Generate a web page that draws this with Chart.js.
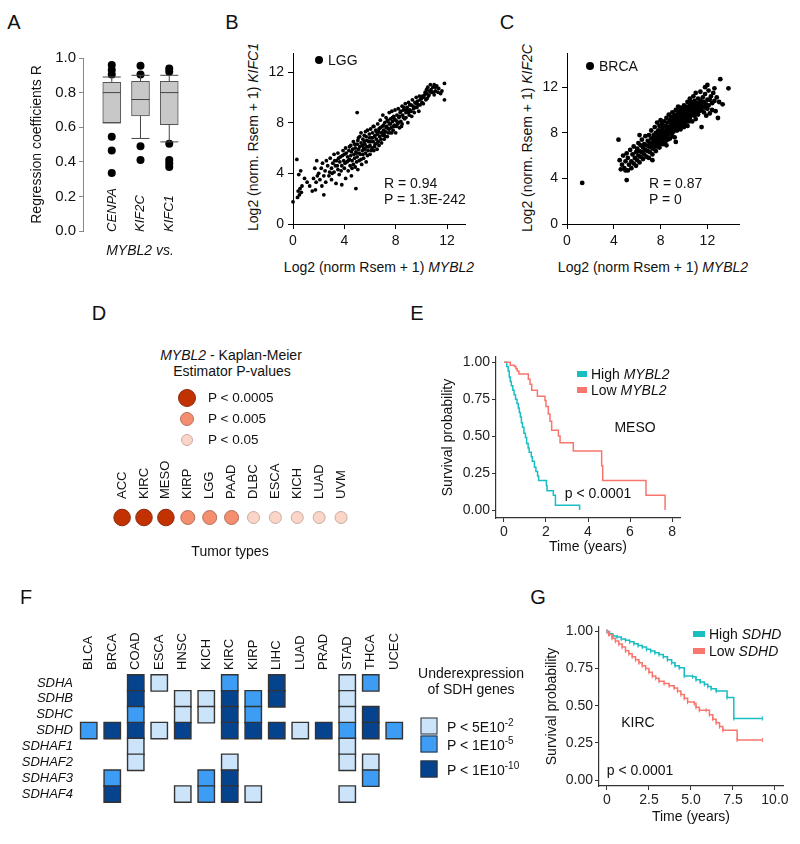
<!DOCTYPE html>
<html>
<head>
<meta charset="utf-8">
<script src="https://cdn.jsdelivr.net/npm/chart.js@4.4.1/dist/chart.umd.min.js"></script>
<style>
body { margin:0; width:800px; height:844px; position:relative; background:#fff; font-family:'Liberation Sans', Arial, sans-serif; color:#111; overflow:hidden; }
canvas { position:absolute; }
.t { position:absolute; white-space:nowrap; font-size:14px; line-height:1; }
.c { transform: translate(-50%,-50%); }
.l { transform: translate(0,-50%); }
.v { transform: translate(-50%,-50%) rotate(-90deg); }
.vb { transform-origin: 0 0; transform: rotate(-90deg) translate(0,-50%); font-size:13px; font-style:italic; }
.letter { font-size:20px; }
.sw { position:absolute; transform: translate(-50%,-50%); box-sizing:border-box; }
.dot { position:absolute; transform: translate(-50%,-50%); box-sizing:border-box; border-radius:50%; }
sup { font-size:10px; vertical-align: 6px; line-height:0; }
</style>
</head>
<body>
<canvas id="chartA" width="178" height="198" style="left:25px;top:45px"></canvas>
<canvas id="chartB" width="210" height="214" style="left:262px;top:40px"></canvas>
<canvas id="chartC" width="210" height="214" style="left:536px;top:40px"></canvas>
<canvas id="chartD" width="265" height="100" style="left:100px;top:440px"></canvas>
<canvas id="chartE" width="254" height="225" style="left:436px;top:340px"></canvas>
<canvas id="chartF" width="420" height="215" style="left:0px;top:600px"></canvas>
<canvas id="chartG" width="253" height="225" style="left:540px;top:610px"></canvas>

<!-- panel letters -->
<div class="t c letter" style="left:14px;top:22px">A</div>
<div class="t c letter" style="left:232px;top:22px">B</div>
<div class="t c letter" style="left:507px;top:22px">C</div>
<div class="t c letter" style="left:99px;top:313px">D</div>
<div class="t c letter" style="left:417px;top:313px">E</div>
<div class="t c letter" style="left:26px;top:597px">F</div>
<div class="t c letter" style="left:538px;top:597px">G</div>

<!-- A -->
<div class="t vb" style="left:111px;top:232px">CENPA</div>
<div class="t vb" style="left:139px;top:232px">KIF2C</div>
<div class="t vb" style="left:168px;top:232px">KIFC1</div>
<div class="t c" style="left:140px;top:250px;font-style:italic">MYBL2 vs.</div>

<!-- B -->
<div class="t v" style="left:253px;top:137px">Log2 (norm. Rsem + 1) <i>KIFC1</i></div>
<div class="t c" style="left:379px;top:267px">Log2 (norm Rsem + 1) <i>MYBL2</i></div>
<div class="dot" style="left:319px;top:60px;width:8px;height:8px;background:#000"></div>
<div class="t l" style="left:328px;top:60px">LGG</div>
<div class="t l" style="left:384px;top:183px">R = 0.94</div>
<div class="t l" style="left:384px;top:199px">P = 1.3E-242</div>

<!-- C -->
<div class="t v" style="left:527px;top:138px">Log2 (norm. Rsem + 1) <i>KIF2C</i></div>
<div class="t c" style="left:653px;top:267px">Log2 (norm Rsem + 1) <i>MYBL2</i></div>
<div class="dot" style="left:590px;top:66px;width:8px;height:8px;background:#000"></div>
<div class="t l" style="left:599px;top:66px">BRCA</div>
<div class="t l" style="left:649px;top:183px">R = 0.87</div>
<div class="t l" style="left:649px;top:199px">P = 0</div>

<!-- D -->
<div class="t c" style="left:231px;top:355px"><i>MYBL2</i> - Kaplan-Meier</div>
<div class="t c" style="left:232px;top:371px">Estimator P-values</div>
<div class="dot" style="left:187px;top:398px;width:18px;height:18px;background:#c23200;border:1px solid #8a2a12"></div>
<div class="dot" style="left:187px;top:419px;width:14px;height:14px;background:#f58e6e;border:1px solid #b0705c"></div>
<div class="dot" style="left:187px;top:440px;width:12px;height:12px;background:#fad5c8;border:1px solid #c9aaa0"></div>
<div class="t l" style="left:208px;top:398px;font-size:13.5px">P &lt; 0.0005</div>
<div class="t l" style="left:208px;top:419px;font-size:13.5px">P &lt; 0.005</div>
<div class="t l" style="left:208px;top:440px;font-size:13.5px">P &lt; 0.05</div>
<div class="t c" style="left:230px;top:551px">Tumor types</div>

<!-- E -->
<div class="sw" style="left:582px;top:374px;width:10px;height:6px;background:#19bec3"></div>
<div class="sw" style="left:582px;top:390px;width:10px;height:6px;background:#f8766d"></div>
<div class="t l" style="left:591px;top:374px">High <i>MYBL2</i></div>
<div class="t l" style="left:591px;top:390px">Low <i>MYBL2</i></div>
<div class="t c" style="left:635px;top:427px">MESO</div>
<div class="t c" style="left:598px;top:493px">p &lt; 0.0001</div>

<!-- F -->
<div class="t c" style="left:471px;top:673px">Underexpression</div>
<div class="t c" style="left:471px;top:689px">of SDH genes</div>
<div class="sw" style="left:429px;top:726px;width:17px;height:17px;background:#cce4fa;border:1.5px solid #333"></div>
<div class="sw" style="left:429px;top:744px;width:17px;height:17px;background:#3d9df5;border:1.5px solid #333"></div>
<div class="sw" style="left:429px;top:769px;width:17px;height:17px;background:#06438f;border:1.5px solid #333"></div>
<div class="t l" style="left:447px;top:727px">P &lt; 5E10<sup>-2</sup></div>
<div class="t l" style="left:447px;top:745px">P &lt; 1E10<sup>-5</sup></div>
<div class="t l" style="left:447px;top:770px">P &lt; 1E10<sup>-10</sup></div>

<!-- G -->
<div class="sw" style="left:699px;top:634px;width:12px;height:6px;background:#19bec3"></div>
<div class="sw" style="left:699px;top:651px;width:12px;height:6px;background:#f8766d"></div>
<div class="t l" style="left:709px;top:634px">High <i>SDHD</i></div>
<div class="t l" style="left:709px;top:651px">Low <i>SDHD</i></div>
<div class="t c" style="left:638px;top:722px">KIRC</div>
<div class="t c" style="left:640px;top:770px">p &lt; 0.0001</div>

<script>
// ---- data ----
// A: regression coefficients, MYBL2 vs. gene
const boxGenes = ['CENPA', 'KIF2C', 'KIFC1'];
const boxQ1 = [0.625, 0.665, 0.615];
const boxMed = [0.80, 0.76, 0.80];
const boxQ3 = [0.86, 0.865, 0.865];
const whiskLo = [0.625, 0.535, 0.515];
const whiskHi = [0.89, 0.90, 0.90];
const cenpaOut = [0.96, 0.93, 0.905, 0.545, 0.465, 0.335];
const kif2cOut = [0.955, 0.905, 0.49, 0.41];
const kifc1Out = [0.94, 0.92, 0.505, 0.41, 0.39, 0.37];
const aTicks = [0, 0.2, 0.4, 0.6, 0.8, 1.0];

// B: LGG, MYBL2 vs KIFC1 (x, y)
const lggPoints = [[0.0,1.75],[0.3,5.1],[0.35,2.1],[0.4,2.6],[0.45,3.9],[0.5,2.3],[0.55,2.8],[0.6,4.2],[0.65,2.5],[0.7,3.0],[0.9,3.6],[1.1,3.3],[1.3,3.0],[1.5,2.6],[1.6,3.6],[1.7,4.4],[1.75,2.7],[1.8,3.3],[1.85,5.0],[1.9,3.8],[2.0,4.0],[2.1,3.5],[2.2,4.4],[2.25,3.0],[2.3,4.8],[2.4,2.3],[2.4,3.8],[2.5,4.2],[2.55,3.3],[2.6,5.0],[2.7,4.6],[2.8,3.8],[2.85,4.1],[2.9,5.2],[3.0,4.4],[3.0,3.5],[3.1,4.8],[3.2,5.5],[3.2,4.1],[3.3,4.6],[3.35,3.2],[3.4,5.0],[3.5,4.3],[3.5,5.6],[3.6,3.9],[3.65,4.9],[3.7,5.3],[3.8,4.6],[3.8,3.1],[3.9,5.8],[3.95,5.0],[4.0,4.4],[4.0,5.5],[4.1,3.6],[4.1,6.0],[4.2,4.9],[4.25,5.3],[4.3,4.2],[4.35,5.8],[4.4,5.1],[4.45,4.6],[4.5,6.2],[4.5,5.4],[4.55,3.8],[4.6,5.0],[4.65,5.9],[4.7,4.7],[4.7,6.5],[4.75,5.5],[4.8,5.2],[4.85,6.0],[4.9,2.8],[4.9,5.7],[4.95,4.9],[5.0,6.3],[5.0,5.3],[5.0,8.8],[5.05,4.3],[5.1,6.8],[5.1,5.9],[5.15,5.0],[5.2,6.1],[5.25,5.5],[5.3,7.2],[5.3,6.4],[5.35,4.7],[5.4,5.8],[5.45,6.7],[5.5,6.0],[5.5,5.2],[5.55,7.0],[5.6,6.3],[5.65,5.6],[5.7,6.9],[5.7,4.9],[5.75,6.1],[5.8,7.4],[5.85,5.8],[5.9,6.5],[5.95,7.1],[6.0,6.2],[6.0,5.5],[6.05,7.5],[6.1,6.8],[6.15,6.0],[6.2,7.2],[6.25,6.5],[6.3,5.8],[6.3,7.7],[6.35,6.9],[6.4,6.3],[6.45,7.4],[6.5,6.7],[6.55,5.9],[6.6,7.1],[6.6,7.9],[6.65,6.5],[6.7,7.5],[6.75,6.9],[6.8,8.2],[6.85,7.2],[6.9,6.4],[6.95,7.7],[7.0,7.0],[7.0,8.6],[7.05,7.4],[7.1,6.7],[7.15,8.0],[7.2,7.3],[7.25,8.4],[7.3,7.7],[7.35,6.9],[7.4,8.1],[7.45,7.5],[7.5,8.8],[7.5,7.9],[7.55,7.2],[7.6,8.3],[7.65,7.6],[7.7,8.9],[7.75,8.1],[7.8,7.4],[7.85,8.5],[7.9,7.8],[7.95,9.0],[8.0,8.2],[8.0,7.2],[8.1,8.6],[8.15,7.9],[8.2,9.1],[8.25,8.4],[8.3,7.6],[8.35,8.8],[8.4,8.1],[8.5,9.3],[8.5,7.9],[8.55,8.6],[8.6,9.0],[8.7,8.3],[8.75,9.5],[8.8,8.8],[8.9,9.2],[8.95,8.0],[9.0,9.6],[9.05,8.6],[9.1,9.0],[9.2,9.4],[9.25,8.5],[9.3,9.8],[9.4,9.1],[9.45,8.8],[9.5,9.6],[9.6,10.0],[9.65,9.2],[9.7,9.7],[9.8,8.9],[9.85,10.1],[9.9,9.4],[10.0,9.9],[10.1,10.1],[10.15,9.5],[10.2,10.0],[10.3,10.4],[10.35,9.8],[10.4,10.3],[10.5,10.8],[10.55,10.1],[10.6,10.5],[10.7,11.0],[10.8,10.4],[10.9,10.8],[11.0,11.0],[11.1,10.5],[11.2,10.9],[11.3,10.4],[11.5,10.3],[11.8,11.1],[11.8,9.8],
    [3.05,4.0],[3.25,5.0],[3.45,4.6],[3.55,5.2],[3.75,4.2],[3.85,5.4],[4.05,4.8],[4.15,5.6],[4.3,5.0],[4.4,6.1],[4.55,5.7],[4.6,4.4],[4.8,6.3],[4.85,4.5],[4.95,5.6],[5.05,6.6],[5.15,5.6],[5.2,6.9],[5.3,5.1],[5.4,6.2],[5.45,5.5],[5.55,6.5],[5.6,5.9],[5.65,7.3],[5.75,6.6],[5.8,5.4],[5.9,6.1],[5.95,6.8],[6.05,6.5],[6.1,5.8],[6.2,6.8],[6.25,7.7],[6.35,6.1],[6.4,7.0],[6.5,7.3],[6.55,6.4],[6.65,7.3],[6.7,6.2],[6.8,7.6],[6.85,6.7],[6.95,7.2],[7.05,7.8],[7.1,7.1],[7.2,6.9],[7.25,7.6],[7.35,8.2],[7.4,7.2],[7.5,7.5],[7.6,7.9],[7.7,7.2],[7.75,8.4],[7.85,7.7],[7.9,8.3],[8.05,7.7],[8.1,8.1],[8.2,8.0],[8.3,8.5],[8.4,8.9],[8.45,7.7],[8.6,8.4],[8.65,9.2],[8.8,8.4],[8.85,9.0],[9.0,8.8],[9.1,9.4],[9.2,8.9],[9.35,9.3],[9.5,9.2],[9.6,9.5],[9.75,9.4],[9.9,9.8],[10.05,9.6],[10.25,10.2],[10.45,9.9],[10.6,10.2],[10.75,10.6],[10.95,10.4],[11.1,10.8],[11.35,10.7],[11.6,10.5],[11.0,10.2],[10.4,10.6]];
const bTicks = [0, 4, 8, 12];

// C: BRCA, MYBL2 vs KIF2C (x, y)
const brcaPoints = [[1.3,3.6],[5.1,3.85],[4.4,7.4],[4.5,5.6],[4.6,4.8],[4.7,5.2],[4.8,6.0],[4.9,4.9],[5.0,5.5],[5.0,4.7],[5.1,6.2],[5.2,4.7],[5.2,5.8],[5.3,5.2],[5.4,6.5],[5.5,5.5],[5.5,4.9],[5.6,6.1],[5.7,5.3],[5.7,6.8],[5.8,5.8],[5.9,6.3],[5.9,5.1],[6.0,6.6],[6.0,5.6],[6.1,6.0],[6.1,7.1],[6.2,6.4],[6.2,5.4],[6.2,7.8],[6.3,6.9],[6.3,5.9],[6.4,6.3],[6.4,7.4],[6.5,6.7],[6.5,5.7],[6.6,7.0],[6.6,6.1],[6.7,7.7],[6.7,6.5],[6.8,6.9],[6.8,5.9],[6.9,7.3],[6.9,6.4],[7.0,6.8],[7.0,7.8],[7.0,5.8],[7.1,7.1],[7.1,6.3],[7.2,7.5],[7.2,6.7],[7.2,8.2],[7.3,7.0],[7.3,6.1],[7.3,5.6],[7.4,7.8],[7.4,7.3],[7.4,6.6],[7.5,8.5],[7.5,7.6],[7.5,6.9],[7.6,8.0],[7.6,7.2],[7.6,6.4],[7.7,8.9],[7.7,7.5],[7.7,6.8],[7.8,8.2],[7.8,7.8],[7.8,7.1],[7.9,8.6],[7.9,7.4],[7.9,6.7],[8.0,8.0],[8.0,7.6],[8.0,7.0],[8.0,9.1],[8.1,8.3],[8.1,7.3],[8.1,8.8],[8.2,7.8],[8.2,8.5],[8.2,7.0],[8.3,8.1],[8.3,9.0],[8.3,7.5],[8.4,8.6],[8.4,7.9],[8.4,7.2],[8.5,8.3],[8.5,9.3],[8.5,7.7],[8.5,6.9],[8.6,8.9],[8.6,8.0],[8.6,7.4],[8.7,8.5],[8.7,9.6],[8.7,7.9],[8.8,8.2],[8.8,9.1],[8.8,7.5],[8.9,8.7],[8.9,9.4],[8.9,8.0],[9.0,8.4],[9.0,9.0],[9.0,7.7],[9.0,9.8],[9.1,8.7],[9.1,9.3],[9.1,8.1],[9.2,8.9],[9.2,9.6],[9.2,8.4],[9.2,7.6],[9.3,9.1],[9.3,8.6],[9.3,10.0],[9.3,7.2],[9.4,9.4],[9.4,8.8],[9.4,8.2],[9.5,9.7],[9.5,9.0],[9.5,8.5],[9.5,10.3],[9.6,9.3],[9.6,8.7],[9.6,9.9],[9.7,9.5],[9.7,8.9],[9.7,10.2],[9.7,8.3],[9.8,9.2],[9.8,9.8],[9.8,8.6],[9.9,9.5],[9.9,10.1],[9.9,8.9],[10.0,9.7],[10.0,9.1],[10.0,10.4],[10.0,8.5],[10.1,9.4],[10.1,10.0],[10.1,8.8],[10.2,9.7],[10.2,10.3],[10.2,9.1],[10.3,9.9],[10.3,9.4],[10.3,10.7],[10.3,8.6],[10.4,10.1],[10.4,9.6],[10.4,9.0],[10.5,10.4],[10.5,9.8],[10.5,9.3],[10.5,11.0],[10.6,10.0],[10.6,9.5],[10.6,10.7],[10.7,10.2],[10.7,9.7],[10.7,9.0],[10.8,10.5],[10.8,9.9],[10.8,11.2],[10.9,10.1],[10.9,9.5],[10.9,10.8],[11.0,10.3],[11.0,9.8],[11.0,11.5],[11.0,9.2],[11.1,10.6],[11.1,10.0],[11.2,10.2],[11.2,11.0],[11.2,9.6],[11.3,10.5],[11.3,9.9],[11.4,10.8],[11.4,10.2],[11.4,11.6],[11.5,10.0],[11.5,10.6],[11.5,8.5],[11.6,10.3],[11.6,11.1],[11.7,10.7],[11.7,9.8],[11.8,10.2],[11.8,11.4],[11.8,12.0],[11.9,10.5],[11.9,9.5],[12.0,10.9],[12.0,10.1],[12.0,12.2],[12.1,11.7],[12.1,10.4],[12.2,9.7],[12.2,10.9],[12.3,11.2],[12.4,10.0],[12.4,10.6],[12.5,11.5],[12.6,10.8],[12.6,11.9],[12.7,9.9],[12.8,11.1],[12.9,9.3],[13.0,10.7],[13.1,12.7],[13.3,10.5],[13.8,11.9]];
const cTicks = [0, 4, 8, 12];

// D: Kaplan-Meier P-value level per tumor (3 = P<0.0005, 2 = P<0.005, 1 = P<0.05)
const kmTumors = ['ACC', 'KIRC', 'MESO', 'KIRP', 'LGG', 'PAAD', 'DLBC', 'ESCA', 'KICH', 'LUAD', 'UVM'];
const kmLevel = [3, 3, 3, 2, 2, 2, 1, 1, 1, 1, 1];

// E: MESO survival (time in years, survival probability)
const mesoHighT = [0, 0.13, 0.2, 0.25, 0.3, 0.35, 0.42, 0.48, 0.55, 0.62, 0.68, 0.73, 0.78, 0.83, 0.88, 0.95, 1.02, 1.08, 1.15, 1.2, 1.3, 1.35, 1.45, 1.52, 1.6, 1.65, 2.02, 2.05, 2.35, 2.45, 3.6];
const mesoHighS = [1.0, 0.97, 0.94, 0.9, 0.87, 0.84, 0.81, 0.78, 0.75, 0.72, 0.69, 0.66, 0.63, 0.59, 0.56, 0.52, 0.49, 0.45, 0.42, 0.39, 0.36, 0.33, 0.29, 0.26, 0.23, 0.2, 0.165, 0.13, 0.1, 0.033, 0.0];
const mesoLowT = [0, 0.3, 0.5, 0.57, 0.63, 0.71, 1.16, 1.24, 1.32, 1.59, 1.95, 2.0, 2.11, 2.19, 2.27, 2.59, 2.67, 3.3, 4.65, 4.7, 6.76, 7.67];
const mesoLowS = [1.0, 0.98, 0.97, 0.955, 0.94, 0.92, 0.885, 0.85, 0.81, 0.77, 0.74, 0.70, 0.65, 0.60, 0.54, 0.50, 0.455, 0.40, 0.30, 0.20, 0.10, 0.0];
const eXTicks = [0, 2, 4, 6, 8];
const kmYTicks = [0, 0.25, 0.5, 0.75, 1.0];

// F: SDH gene underexpression level (0 none, 1 P<5E10-2, 2 P<1E10-5, 3 P<1E10-10)
const sdhTumors = ['BLCA', 'BRCA', 'COAD', 'ESCA', 'HNSC', 'KICH', 'KIRC', 'KIRP', 'LIHC', 'LUAD', 'PRAD', 'STAD', 'THCA', 'UCEC'];
const sdhGenes = ['SDHA', 'SDHB', 'SDHC', 'SDHD', 'SDHAF1', 'SDHAF2', 'SDHAF3', 'SDHAF4'];
const sdhaRow   = [0, 0, 3, 1, 0, 0, 2, 0, 3, 0, 0, 1, 2, 0];
const sdhbRow   = [0, 0, 3, 0, 1, 1, 3, 2, 3, 0, 0, 1, 0, 0];
const sdhcRow   = [0, 0, 2, 0, 1, 1, 3, 2, 0, 0, 0, 1, 3, 0];
const sdhdRow   = [2, 3, 3, 1, 3, 0, 3, 3, 3, 1, 3, 2, 3, 2];
const sdhaf1Row = [0, 0, 1, 0, 0, 0, 0, 0, 0, 0, 0, 1, 0, 0];
const sdhaf2Row = [0, 0, 1, 0, 0, 0, 1, 0, 0, 0, 0, 1, 1, 0];
const sdhaf3Row = [0, 2, 0, 0, 0, 2, 3, 0, 0, 0, 0, 0, 2, 0];
const sdhaf4Row = [0, 3, 0, 0, 1, 2, 3, 1, 0, 0, 0, 1, 0, 0];
const sdhRows = [sdhaRow, sdhbRow, sdhcRow, sdhdRow, sdhaf1Row, sdhaf2Row, sdhaf3Row, sdhaf4Row];

// G: KIRC survival by SDHD expression
const kircHighT = [0, 0.15, 0.35, 0.6, 0.85, 1.1, 1.35, 1.6, 1.85, 2.1, 2.35, 2.6, 2.85, 3.1, 3.35, 3.6, 3.85, 4.05, 4.3, 4.6, 5.1, 5.3, 5.55, 5.8, 6.0, 6.2, 6.5, 7.15, 7.55, 9.25];
const kircHighS = [1.0, 0.985, 0.97, 0.962, 0.95, 0.94, 0.93, 0.918, 0.905, 0.895, 0.88, 0.868, 0.856, 0.845, 0.83, 0.81, 0.79, 0.77, 0.755, 0.70, 0.695, 0.675, 0.66, 0.645, 0.63, 0.615, 0.60, 0.555, 0.415, 0.415];
const kircLowT = [0, 0.1, 0.3, 0.5, 0.7, 0.9, 1.1, 1.3, 1.5, 1.7, 1.9, 2.1, 2.3, 2.5, 2.7, 2.9, 3.1, 3.4, 3.7, 4.0, 4.2, 4.4, 4.6, 4.8, 5.2, 5.3, 5.5, 5.9, 6.1, 6.3, 6.5, 6.7, 6.9, 7.75, 9.25];
const kircLowS = [1.0, 0.98, 0.955, 0.935, 0.915, 0.895, 0.87, 0.85, 0.83, 0.81, 0.79, 0.77, 0.75, 0.725, 0.70, 0.685, 0.665, 0.65, 0.635, 0.62, 0.60, 0.575, 0.55, 0.525, 0.515, 0.49, 0.47, 0.47, 0.44, 0.41, 0.385, 0.36, 0.335, 0.27, 0.27];
const gXTicks = [0, 2.5, 5, 7.5, 10];

// ---- styles ----
const teal = '#19bec3';
const salmon = '#f8766d';
const kmFill = { 1: '#fad5c8', 2: '#f58e6e', 3: '#c23200' };
const kmEdge = { 1: '#c9aaa0', 2: '#b0705c', 3: '#8a2a12' };
const kmRad = { 1: 6, 2: 7, 3: 8.3 };
const sdhFill = { 1: '#cce4fa', 2: '#3d9df5', 3: '#06438f' };

Chart.defaults.font.family = "'Liberation Sans', Arial, sans-serif";
Chart.defaults.font.size = 14;
Chart.defaults.color = '#111';
Chart.defaults.animation = false;
Chart.defaults.responsive = false;
Chart.defaults.plugins.legend.display = false;
Chart.defaults.plugins.tooltip.enabled = false;

const fixTicks = vals => s => { s.ticks = vals.map(v => ({ value: v })); };
const fixW = w => s => { s.width = w; };
const fixH = h => s => { s.height = h; };

// A - box plot: boxes are floating bars, whiskers/medians drawn off the scales
const boxLines = {
    id: 'boxLines',
    afterDatasetDraw(chart, args) {
        if (args.index !== 0) return;
        const { ctx, scales: { x, y } } = chart;
        const seg = (x1, y1, x2, y2) => { ctx.beginPath(); ctx.moveTo(x1, y1); ctx.lineTo(x2, y2); ctx.stroke(); };
        ctx.save();
        ctx.strokeStyle = '#444';
        ctx.lineWidth = 1;
        boxGenes.forEach((g, i) => {
            const cx = x.getPixelForValue(i + 1), hw = 9;
            const med = y.getPixelForValue(boxMed[i]);
            const hi = y.getPixelForValue(whiskHi[i]), lo = y.getPixelForValue(whiskLo[i]);
            seg(cx - hw, med, cx + hw, med);
            seg(cx, y.getPixelForValue(boxQ3[i]), cx, hi);
            seg(cx, y.getPixelForValue(boxQ1[i]), cx, lo);
            seg(cx - hw, hi, cx + hw, hi);
            seg(cx - hw, lo, cx + hw, lo);
        });
        ctx.restore();
    }
};

const outliers = [cenpaOut, kif2cOut, kifc1Out].flatMap((arr, i) => arr.map(v => ({ x: i + 1, y: v })));

new Chart(document.getElementById('chartA'), {
    type: 'bar',
    data: {
        datasets: [
            { type: 'bar', data: boxGenes.map((g, i) => ({ x: i + 1, y: [boxQ1[i], boxQ3[i]] })),
              backgroundColor: '#c8c8c8', borderColor: '#555', borderWidth: 1, borderSkipped: false, barThickness: 18 },
            { type: 'scatter', data: outliers, backgroundColor: '#000', borderWidth: 0, pointRadius: 4, clip: false }
        ]
    },
    options: {
        layout: { padding: { top: 13, right: 5, bottom: 12, left: 0 } },
        scales: {
            x: { type: 'linear', min: 0, max: 4, display: false, offset: false, grid: { offset: false } },
            y: {
                min: 0, max: 1, afterFit: fixW(58), afterBuildTicks: fixTicks(aTicks),
                ticks: { callback: v => v.toFixed(1), font: { size: 15 }, padding: 3 },
                grid: { drawOnChartArea: false, tickLength: 4, color: '#888' },
                border: { color: '#888' },
                title: { display: true, text: 'Regression coefficients R' }
            }
        }
    },
    plugins: [boxLines]
});

// B, C - scatter plots
function scatterPanel(id, pts, xMax, yMax, ticks, r) {
    const axis = (max, fit) => ({
        type: 'linear', min: 0, max: max, afterBuildTicks: fixTicks(ticks), ...fit,
        ticks: { padding: 4 },
        grid: { drawOnChartArea: false, tickLength: 5, color: '#000' },
        border: { color: '#000' }
    });
    new Chart(document.getElementById(id), {
        type: 'scatter',
        data: { datasets: [{ data: pts.map(p => ({ x: p[0], y: p[1] })), backgroundColor: '#000', borderWidth: 0, pointRadius: r, clip: false }] },
        options: {
            layout: { padding: { top: 13, right: 7, bottom: 0, left: 0 } },
            scales: {
                x: axis(xMax, { afterFit: fixH(30) }),
                y: axis(yMax, { afterFit: fixW(31) })
            }
        }
    });
}
scatterPanel('chartB', lggPoints, 13.4, 13.5, bTicks, 1.9);
scatterPanel('chartC', brcaPoints, 14.7, 15.0, cTicks, 2.4);

// rotated labels on a top axis: shift back by one line height to centre them on the tick
const topLabelShift = 13 * 1.2;

// D - P-value dots per tumor type
new Chart(document.getElementById('chartD'), {
    type: 'scatter',
    data: {
        datasets: [{
            data: kmTumors.map(t => ({ x: t, y: 0 })),
            pointRadius: c => kmRad[kmLevel[c.dataIndex]],
            backgroundColor: c => kmFill[kmLevel[c.dataIndex]],
            borderColor: c => kmEdge[kmLevel[c.dataIndex]],
            borderWidth: 1
        }]
    },
    options: {
        layout: { padding: { top: 0, right: 13, bottom: 10, left: 11 } },
        scales: {
            x: {
                type: 'category', labels: kmTumors, position: 'top', offset: true, afterFit: fixH(65),
                ticks: { autoSkip: false, minRotation: 90, maxRotation: 90, padding: 6, labelOffset: topLabelShift, font: { size: 13 } },
                grid: { display: false, drawTicks: false }, border: { display: false }
            },
            y: { min: -1, max: 1, display: false }
        }
    }
});

// E, G - Kaplan-Meier curves
function kmPanel(id, curves, xr, yr, xTicks, xFmt, yW, xH, censor) {
    new Chart(document.getElementById(id), {
        type: 'line',
        data: {
            datasets: curves.map(c => ({
                data: c.t.map((t, i) => ({ x: t, y: c.s[i] })),
                borderColor: c.color, borderWidth: 1.5, stepped: true, fill: false,
                pointRadius: censor ? 2.2 : 0, pointStyle: 'line', rotation: 90,
                pointBorderColor: c.color, pointBorderWidth: 1
            }))
        },
        options: {
            layout: { padding: { top: 17, right: 10, bottom: 5.6, left: 0 } },
            scales: {
                x: {
                    type: 'linear', min: xr[0], max: xr[1], afterBuildTicks: fixTicks(xTicks), afterFit: fixH(xH),
                    ticks: { callback: xFmt, padding: 2, color: '#222' },
                    grid: { drawOnChartArea: false, tickLength: 4, color: '#333' },
                    border: { color: '#333', width: 1.2 },
                    title: { display: true, text: 'Time (years)' }
                },
                y: {
                    min: yr[0], max: yr[1], afterBuildTicks: fixTicks(kmYTicks), afterFit: fixW(yW),
                    ticks: { callback: v => v.toFixed(2), padding: 2, color: '#222' },
                    grid: { drawOnChartArea: false, tickLength: 4, color: '#333' },
                    border: { color: '#333', width: 1.2 },
                    title: { display: true, text: 'Survival probability' }
                }
            }
        }
    });
}
kmPanel('chartE', [
    { t: mesoLowT, s: mesoLowS, color: salmon },
    { t: mesoHighT, s: mesoHighS, color: teal }
], [-0.38, 8.38], [-0.054, 1.035], eXTicks, v => String(v), 60, 41.4, false);

kmPanel('chartG', [
    { t: kircLowT, s: kircLowS, color: salmon },
    { t: kircHighT, s: kircHighS, color: teal }
], [-0.476, 10.48], [-0.04, 1.03], gXTicks, v => v === 0 ? '0' : v.toFixed(1), 59, 43.4, true);

// F - SDH heat map
const sdhCells = [];
sdhRows.forEach((row, gi) => row.forEach((lvl, ti) => {
    if (lvl) sdhCells.push({ x: sdhTumors[ti], y: sdhGenes[gi], lvl: lvl });
}));

new Chart(document.getElementById('chartF'), {
    type: 'scatter',
    data: {
        datasets: [{
            data: sdhCells,
            pointStyle: 'rect', pointRadius: 11.6,
            backgroundColor: c => sdhFill[c.raw.lvl],
            borderColor: '#333', borderWidth: 1.4, clip: false
        }]
    },
    options: {
        layout: { padding: { top: 0, right: 14, bottom: 9.5, left: 0 } },
        scales: {
            x: {
                type: 'category', labels: sdhTumors, position: 'top', offset: true, afterFit: fixH(75),
                ticks: { autoSkip: false, minRotation: 90, maxRotation: 90, padding: 5, labelOffset: topLabelShift, font: { size: 13 } },
                grid: { display: false, drawTicks: false }, border: { display: false }
            },
            y: {
                type: 'category', labels: sdhGenes, offset: true, afterFit: fixW(77),
                ticks: { autoSkip: false, padding: 4, font: { size: 13, style: 'italic' } },
                grid: { display: false, drawTicks: false }, border: { display: false }
            }
        }
    }
});
</script>
</body>
</html>
